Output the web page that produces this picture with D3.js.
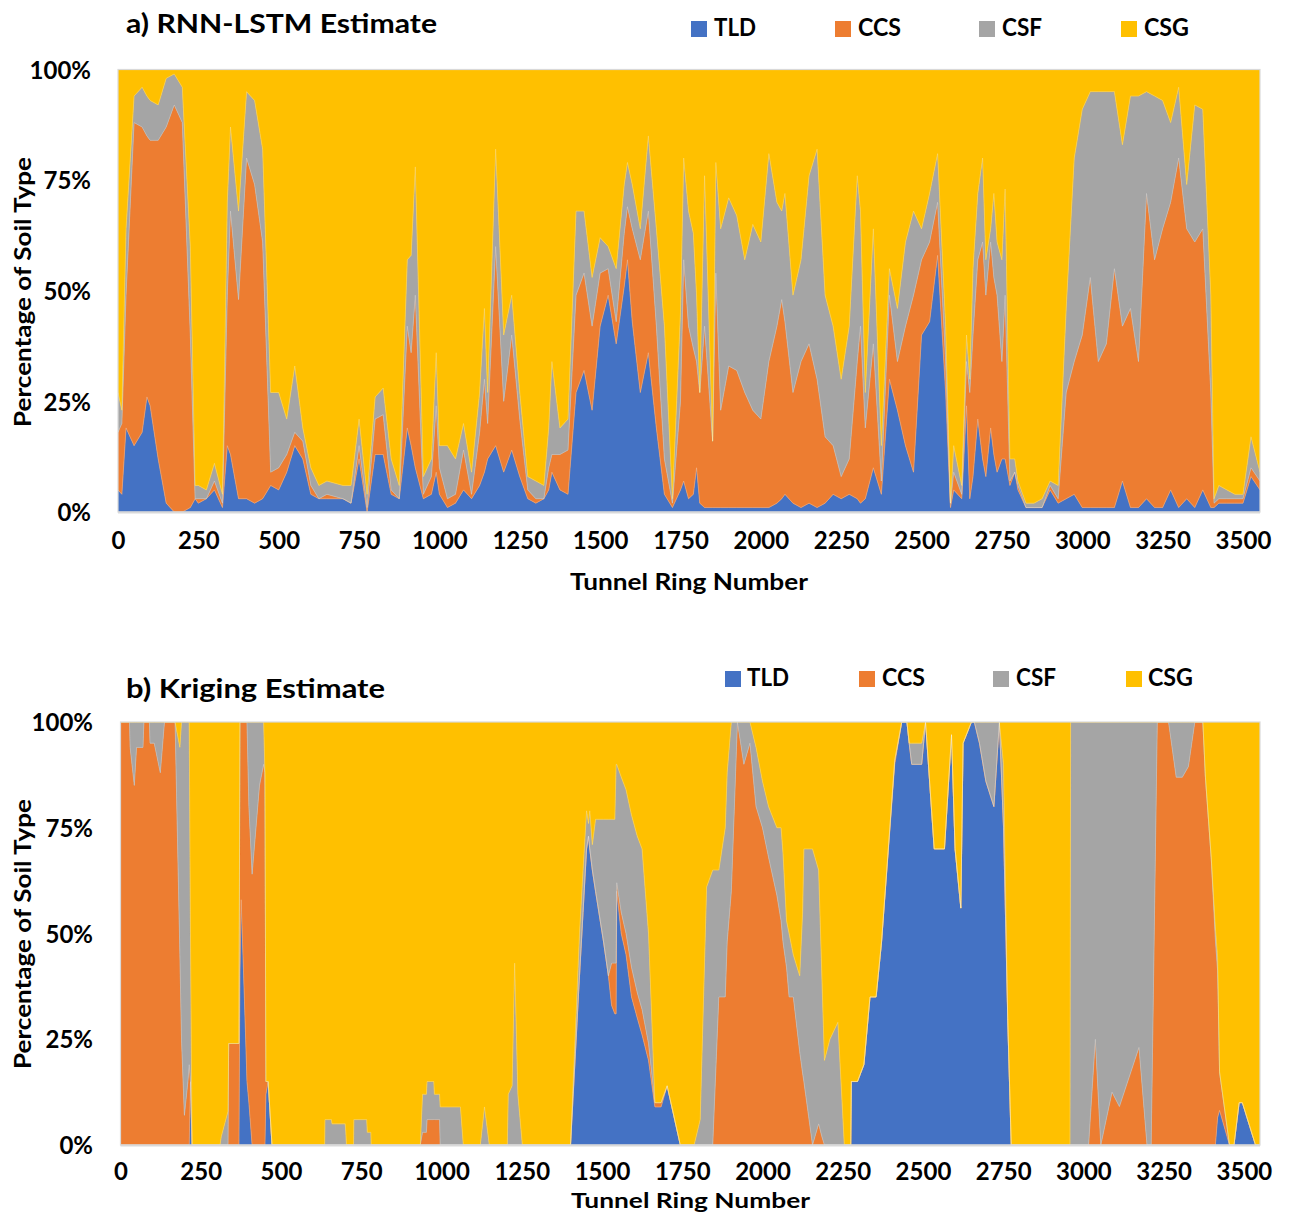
<!DOCTYPE html>
<html>
<head>
<meta charset="utf-8">
<script src="https://cdn.jsdelivr.net/npm/d3@7"></script>
<style>
  html, body { margin: 0; padding: 0; background: #fff; }
  svg text { font-family: Lato, "Open Sans", "DejaVu Sans", sans-serif; font-weight: 700; fill: #000; }
</style>
</head>
<body>
<svg id="chart" width="1289" height="1213"></svg>
<script>
// Soil classes and their fills
const keys = ["TLD", "CCS", "CSF", "CSG"];
const colors = ["#4472C4", "#ED7D31", "#A5A5A5", "#FFC000"];
const xTicks = [0, 250, 500, 750, 1000, 1250, 1500, 1750, 2000, 2250, 2500, 2750, 3000, 3250, 3500];
const yTicks = [0, 25, 50, 75, 100];
const yTickLabels = ["0%", "25%", "50%", "75%", "100%"];

// a) RNN-LSTM estimate: percentage of each soil type along the tunnel rings
const lstmRing = [0,12,25,50,75,90,100,125,150,175,200,225,240,250,275,300,325,340,350,375,400,425,450,475,500,525,550,575,600,625,650,700,725,750,775,800,825,850,875,900,912,925,950,975,990,1000,1025,1050,1075,1100,1125,1140,1150,1175,1200,1225,1250,1275,1300,1325,1340,1350,1375,1400,1425,1450,1475,1500,1525,1550,1575,1585,1600,1625,1650,1675,1700,1725,1750,1760,1775,1790,1800,1810,1825,1850,1860,1875,1900,1925,1950,1975,2000,2025,2050,2065,2075,2100,2125,2150,2175,2200,2225,2250,2275,2300,2310,2325,2350,2375,2400,2425,2450,2475,2500,2525,2550,2575,2590,2600,2625,2640,2650,2660,2675,2690,2700,2715,2725,2735,2750,2760,2775,2790,2800,2825,2850,2875,2900,2925,2950,2975,3000,3025,3050,3075,3100,3125,3150,3175,3200,3225,3250,3275,3300,3325,3350,3375,3400,3410,3425,3450,3475,3500,3525,3553];
const lstmTLD = [5,4,19,15,18,26,24,12,2,0,0,1,3,2,3,5,1,15,13,3,3,2,3,6,5,9,15,12,4,3,3,3,2,12,0,13,13,4,3,19,15,10,3,4,9,4,1,2,5,3,6,9,12,15,9,14,8,3,2,3,5,9,5,4,27,32,23,42,49,38,51,57,43,27,36,19,4,1,5,7,3,4,10,2,1,1,1,1,1,1,1,1,1,1,2,3,4,2,1,2,1,2,4,3,4,3,2,3,10,4,30,23,15,9,40,43,58,27,1,5,3,24,3,8,21,12,8,19,13,9,12,12,6,9,5,1,1,1,5,2,3,4,1,1,1,1,1,7,1,1,3,1,1,5,1,3,1,5,1,1,2,2,2,2,8,5];
const lstmCCS = [13,16,30,73,69,59,60,72,85,92,88,39,0,1,0,2,1,34,55,45,77,72,58,3,5,4,3,4,2,0,1,0,0,3,1,8,9,1,0,23,21,39,1,4,15,6,2,2,9,1,12,21,8,45,16,26,13,2,1,0,5,4,8,10,22,22,19,12,6,5,12,12,21,30,32,23,8,1,20,50,39,33,24,25,41,15,53,22,32,31,26,22,20,33,40,45,39,25,33,36,29,15,11,5,8,31,40,16,28,3,19,11,27,40,17,18,12,7,1,4,1,10,24,32,36,49,41,42,40,40,22,37,1,0,1,0,0,0,1,1,24,30,39,52,33,37,54,35,45,33,69,56,63,65,79,61,60,59,26,1,1,1,1,1,2,2];
const lstmCSF = [9,3,15,6,9,9,9,8,11,7,8,20,3,3,2,4,2,21,19,20,15,19,21,18,17,8,15,3,4,3,3,3,4,6,3,5,6,7,3,15,22,29,4,4,12,5,12,8,6,5,9,16,7,22,15,9,6,3,4,3,9,21,6,7,19,14,11,8,5,12,11,10,10,7,17,22,30,1,20,23,26,26,15,0,34,0,25,41,38,35,30,42,40,47,28,20,29,22,23,38,52,32,27,22,30,42,26,8,26,8,6,12,19,19,7,11,11,8,0,6,2,6,3,15,15,19,8,3,19,12,23,24,5,3,1,1,1,2,1,3,19,46,51,42,61,57,40,41,48,60,23,37,29,18,16,10,31,27,22,1,3,2,1,1,7,2];
const lstmCSG = [73,77,36,6,4,6,7,8,2,1,4,40,94,94,95,89,96,30,13,32,5,7,18,73,73,79,67,81,90,94,93,94,94,79,96,74,72,88,94,43,42,22,92,88,64,85,85,88,80,91,73,54,73,18,60,51,73,92,93,94,81,66,81,79,32,32,47,38,40,45,26,21,26,36,15,36,58,97,55,20,32,37,51,73,24,84,21,36,29,33,43,35,39,19,30,32,28,51,43,24,18,51,58,70,58,24,32,73,36,85,45,54,39,32,36,28,19,58,98,85,94,60,70,45,28,20,43,36,28,39,43,27,88,88,93,98,98,97,93,94,54,20,9,5,5,5,5,17,6,6,5,6,7,12,4,26,8,9,51,97,94,95,96,96,83,91];

// b) Kriging estimate
const krigRing = [0,28,30,43,50,70,73,90,92,105,124,137,170,185,190,199,210,214,218,223,310,314,335,337,369,372,376,390,394,400,410,433,446,450,453,460,472,636,637,657,659,700,702,704,726,727,767,769,780,781,934,941,953,955,976,978,994,996,1059,1068,1121,1134,1149,1205,1208,1220,1228,1238,1252,1402,1430,1441,1452,1458,1462,1470,1480,1505,1520,1530,1540,1544,1546,1560,1575,1592,1610,1625,1645,1665,1684,1703,1744,1787,1806,1826,1845,1864,1884,1890,1903,1922,1942,1961,1980,2000,2019,2045,2058,2064,2075,2083,2096,2116,2125,2129,2156,2175,2185,2193,2210,2235,2255,2275,2277,2296,2316,2335,2354,2371,2412,2434,2450,2457,2465,2496,2508,2535,2567,2589,2600,2618,2625,2651,2660,2676,2696,2721,2738,2751,2764,2775,2958,2960,2992,3016,3037,3054,3089,3112,3173,3198,3211,3230,3265,3289,3308,3327,3347,3372,3380,3398,3411,3418,3424,3455,3469,3485,3495,3536,3550];
const krigTLD = [0,0,0,0,0,0,0,0,0,0,0,0,0,0,0,0,0,0,15,0,0,0,0,0,0,40,58,25,15,10,0,0,0,0,12,15,0,0,0,0,0,0,0,0,0,0,0,0,0,0,0,0,0,0,0,0,0,0,0,0,0,0,0,0,0,0,0,0,0,0,40,55,70,73,70,65,60,48,40,33,31,31,60,50,45,35,30,26,20,9,9,14,0,0,0,0,0,0,0,0,0,0,0,0,0,0,0,0,0,0,0,0,0,0,0,0,0,0,0,0,0,0,0,0,15,15,19,35,35,48,90,100,100,95,90,90,100,70,70,97,70,56,95,100,100,95,86,80,100,75,30,0,0,0,0,0,0,0,0,0,0,0,0,0,0,0,0,0,0,0,0,0,0,10,9,0,0,10,10,0,0];
const krigCCS = [100,100,94,85,94,94,100,100,95,95,88,100,100,45,25,7,15,19,0,0,0,0,0,24,24,60,42,75,85,70,64,85,90,88,3,0,0,0,0,0,0,0,0,0,0,0,0,0,0,0,0,3,3,6,6,6,6,0,0,0,0,0,0,0,0,0,0,0,0,0,0,0,0,0,0,0,0,0,0,10,12,12,2,5,5,7,6,6,4,1,1,0,0,0,0,0,0,35,35,48,60,100,90,95,80,75,68,59,53,48,42,35,35,22,17,15,0,5,2,0,0,0,0,0,0,0,0,0,0,0,1,0,0,0,0,0,0,0,0,0,0,0,0,0,0,0,0,0,0,0,0,0,0,0,0,0,30,0,10,10,30,0,0,53,90,100,100,85,85,90,100,100,85,53,10,0,0,0,0,0,0,0,0];
const krigCSF = [0,0,6,15,6,6,0,0,5,5,12,0,0,49,75,93,85,81,35,0,0,2,8,0,0,0,0,0,0,20,36,15,10,0,0,0,0,0,6,6,5,5,3,0,0,6,6,3,3,0,0,9,9,9,9,6,6,9,9,0,0,9,0,0,12,14,43,12,0,0,10,10,9,3,9,6,17,29,37,34,34,47,28,32,34,36,37,38,26,0,0,0,0,0,6,61,65,30,40,40,40,0,10,5,14,11,12,16,22,21,11,15,10,18,38,55,70,60,38,20,25,29,0,0,0,0,0,0,0,0,0,0,0,0,5,5,0,0,0,0,0,0,0,0,0,5,14,20,0,15,0,0,0,100,70,100,90,90,70,100,100,47,10,0,0,15,15,10,0,0,0,0,5,5,0,0,0,0,0,0,0];
const krigCSG = [0,0,0,0,0,0,0,0,0,0,0,0,0,6,0,0,0,0,50,100,100,98,92,76,76,0,0,0,0,0,0,0,0,12,85,85,100,100,94,94,95,95,97,100,100,94,94,97,97,100,100,88,88,85,85,88,88,91,91,100,100,91,100,100,88,86,57,88,100,100,50,35,21,24,21,29,23,23,23,23,23,10,10,13,16,22,27,30,50,90,90,86,100,100,94,39,35,35,25,12,0,0,0,0,6,14,20,25,25,31,47,50,55,60,45,30,30,35,60,80,75,71,100,100,85,85,81,65,65,52,9,0,0,5,5,5,0,30,30,3,30,44,5,0,0,0,0,0,0,10,70,100,100,0,0,0,0,0,0,0,0,0,0,0,0,0,0,0,0,0,15,47,85,85,91,100,100,90,90,100,100];

const svg = d3.select("#chart");
svg.append("rect").attr("width", 1289).attr("height", 1213).attr("fill", "#fff");

function rowsFrom(ring, tld, ccs, csf, csg) {
  return ring.map((r, i) => ({ ring: r, TLD: tld[i], CCS: ccs[i], CSF: csf[i], CSG: csg[i] }));
}

function drawPanel(cfg) {
  const { id, rows, left, right, top, bottom, xMax, title, titleBox, legend, yLabelRight, xLabelBase, xTitleBase, yTitleCenter } = cfg;
  const x = d3.scaleLinear().domain([0, xMax]).range([left, right]);
  const y = d3.scaleLinear().domain([0, 100]).range([bottom, top]);

  const series = d3.stack().keys(keys)
    .offset(d3.stackOffsetExpand)(rows);

  const clipId = "clip-" + id;
  svg.append("clipPath").attr("id", clipId)
    .append("rect").attr("x", left).attr("y", top).attr("width", right - left).attr("height", bottom - top);

  const area = d3.area()
    .x(d => x(d.data.ring))
    .y0(d => y(d[0] * 100))
    .y1(d => y(d[1] * 100));

  const g = svg.append("g").attr("clip-path", `url(#${clipId})`);
  g.selectAll("path.layer")
    .data(series)
    .join("path")
    .attr("class", "layer")
    .attr("d", area)
    .attr("fill", (d, i) => colors[i])
    .attr("stroke", (d, i) => colors[i])
    .attr("stroke-width", 0.6);

  // soft light seams between neighbouring layers
  const seam = d3.line().x(d => x(d.data.ring)).y(d => y(d[1] * 100));
  g.selectAll("path.seam")
    .data(series.slice(0, 3))
    .join("path")
    .attr("class", "seam")
    .attr("d", seam)
    .attr("fill", "none")
    .attr("stroke", "#fff")
    .attr("stroke-opacity", 0.28)
    .attr("stroke-width", 0.8);

  // plot-area frame
  svg.append("rect")
    .attr("x", left).attr("y", top).attr("width", right - left).attr("height", bottom - top)
    .attr("fill", "none").attr("stroke", "#D9D9D9").attr("stroke-width", 1.2);
  svg.append("line")
    .attr("x1", left).attr("x2", right).attr("y1", bottom + 0.5).attr("y2", bottom + 0.5)
    .attr("stroke", "#D9D9D9").attr("stroke-width", 2);

  // axis labels (tick marks are hidden, labels only)
  const xAxis = d3.axisBottom(x).tickValues(xTicks).tickSize(0).tickFormat(d3.format("d"));
  const xg = svg.append("g").attr("transform", `translate(0,${bottom})`).call(xAxis);
  xg.select(".domain").remove();
  xg.selectAll("text")
    .attr("y", xLabelBase - bottom).attr("dy", null)
    .style("font-size", "24px").style("font-family", "Lato, sans-serif").style("font-weight", 700).attr("fill", "#000");

  const yAxis = d3.axisLeft(y).tickValues(yTicks).tickSize(0).tickFormat((d, i) => yTickLabels[i]);
  const yg = svg.append("g").attr("transform", `translate(${yLabelRight},0)`).call(yAxis);
  yg.select(".domain").remove();
  yg.selectAll("text")
    .attr("x", 0).attr("dy", "0.36em")
    .style("font-size", "24px").style("font-family", "Lato, sans-serif").style("font-weight", 700).attr("fill", "#000");

  // titles
  svg.append("text").attr("x", titleBox.x).attr("y", titleBox.base)
    .attr("textLength", titleBox.w).attr("lengthAdjust", "spacingAndGlyphs")
    .style("font-size", "26px").text(title);

  svg.append("text").attr("x", xTitleBase.x).attr("y", xTitleBase.base)
    .attr("textLength", xTitleBase.w).attr("lengthAdjust", "spacingAndGlyphs")
    .style("font-size", xTitleBase.size + "px").text("Tunnel Ring Number");

  svg.append("text")
    .attr("transform", `translate(${yTitleCenter.x},${yTitleCenter.y}) rotate(-90)`)
    .attr("text-anchor", "middle")
    .attr("textLength", 270).attr("lengthAdjust", "spacingAndGlyphs")
    .style("font-size", "23px").text("Percentage of Soil Type");

  // legend
  keys.forEach((k, i) => {
    const L = legend[i];
    svg.append("rect").attr("x", L.sx).attr("y", legend.sy).attr("width", 16).attr("height", 16).attr("fill", colors[i]);
    svg.append("text").attr("x", L.tx).attr("y", legend.base)
      .attr("textLength", L.w).attr("lengthAdjust", "spacingAndGlyphs")
      .style("font-size", "24px").text(k);
  });
}

const legendA = [
  { sx: 691, tx: 714, w: 42 },
  { sx: 835, tx: 858, w: 43 },
  { sx: 979, tx: 1002, w: 40 },
  { sx: 1121, tx: 1144, w: 45 }
];
legendA.sy = 21; legendA.base = 36;

const legendB = [
  { sx: 725, tx: 747, w: 42 },
  { sx: 859, tx: 882, w: 43 },
  { sx: 993, tx: 1016, w: 40 },
  { sx: 1126, tx: 1148, w: 45 }
];
legendB.sy = 671; legendB.base = 686;

drawPanel({
  id: "lstm",
  rows: rowsFrom(lstmRing, lstmTLD, lstmCCS, lstmCSF, lstmCSG),
  left: 118, right: 1260, top: 69.5, bottom: 512, xMax: 3553,
  title: "a) RNN-LSTM Estimate",
  titleBox: { x: 126, base: 33, w: 311 },
  legend: legendA,
  yLabelRight: 91,
  xLabelBase: 549,
  xTitleBase: { x: 570, base: 590, w: 238, size: 23 },
  yTitleCenter: { x: 31, y: 292 }
});

drawPanel({
  id: "krig",
  rows: rowsFrom(krigRing, krigTLD, krigCCS, krigCSF, krigCSG),
  left: 120.5, right: 1260, top: 722, bottom: 1145, xMax: 3550,
  title: "b) Kriging Estimate",
  titleBox: { x: 126, base: 698, w: 259 },
  legend: legendB,
  yLabelRight: 93,
  xLabelBase: 1180,
  xTitleBase: { x: 571, base: 1208, w: 239, size: 20 },
  yTitleCenter: { x: 31, y: 934 }
});
</script>
</body>
</html>
